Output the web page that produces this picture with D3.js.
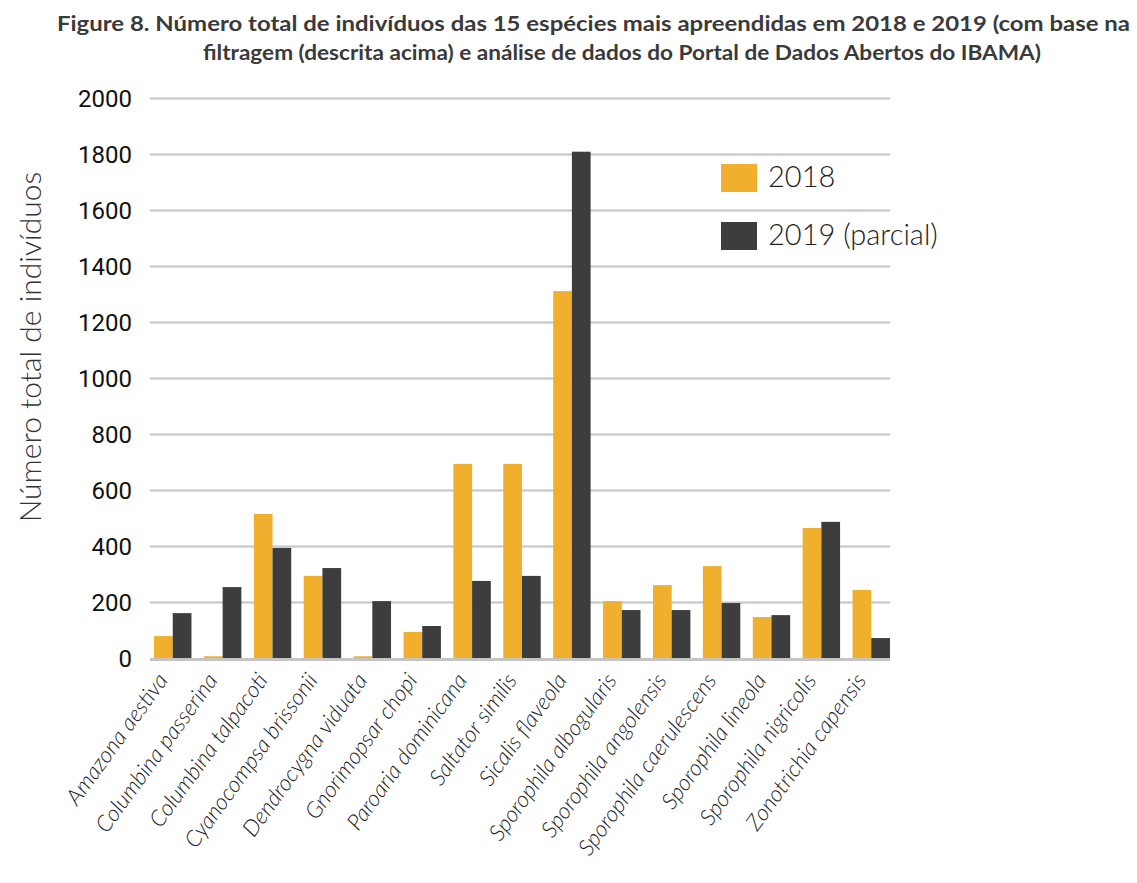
<!DOCTYPE html>
<html><head><meta charset="utf-8">
<script src="https://cdn.jsdelivr.net/npm/d3@7"></script>
<style>html,body{margin:0;padding:0;background:#fff;}</style>
</head><body>
<svg id="chart" width="1137" height="883"></svg>
<script>
const categories = ["Amazona aestiva","Columbina passerina","Columbina talpacoti","Cyanocompsa brissonii","Dendrocygna viduata","Gnorimopsar chopi","Paroaria dominicana","Saltator similis","Sicalis flaveola","Sporophila albogularis","Sporophila angolensis","Sporophila caerulescens","Sporophila lineola","Sporophila nigricolis","Zonotrichia capensis"];
const values2018 = [80, 8, 516, 295, 8, 95, 695, 695, 1312, 205, 262, 330, 148, 466, 245];
const values2019 = [162, 255, 395, 323, 205, 116, 277, 295, 1810, 173, 173, 198, 155, 488, 73];
const seriesNames = ["2018", "2019 (parcial)"];
const yTicks = [0,200,400,600,800,1000,1200,1400,1600,1800,2000];
const titleLines = ["Figure 8. Número total de indivíduos das 15 espécies mais apreendidas em 2018 e 2019 (com base na","filtragem (descrita acima) e análise de dados do Portal de Dados Abertos do IBAMA)"];
const yTitle = "Número total de indivíduos";

const colors = ["#F0AF2C", "#3D3D3D"];
const svg = d3.select("#chart");

const x = d3.scaleBand().domain(categories).range([147.8, 896.2]).paddingInner(0.25).paddingOuter(0.125);
const xs = d3.scaleBand().domain([0,1]).range([0, x.bandwidth()]);
const y = d3.scaleLinear().domain([0, 2000]).range([658.5, 98.5]);

// gridlines
svg.append("g").selectAll("line").data(yTicks.filter(d=>d>0)).join("line")
  .attr("x1", 150).attr("x2", 890)
  .attr("y1", d=>y(d)).attr("y2", d=>y(d))
  .attr("stroke", "#c4c4c4").attr("stroke-width", 2);

// y tick labels
svg.append("g").selectAll("text").data(yTicks).join("text")
  .attr("x", 132).attr("y", d=>y(d)).attr("dy", "0.35em")
  .attr("text-anchor", "end")
  .attr("font-family", "Roboto, sans-serif").attr("font-size", 24).attr("fill", "#111")
  .text(d=>d);

// bars
const data = categories.map((c,i)=>({c, v:[values2018[i], values2019[i]]}));
const g = svg.append("g").selectAll("g").data(data).join("g")
  .attr("transform", d=>`translate(${x(d.c)},0)`);
g.selectAll("rect").data(d=>d.v.map((v,k)=>({v,k}))).join("rect")
  .attr("x", d=>xs(d.k)).attr("width", xs.bandwidth())
  .attr("y", d=>y(d.v)).attr("height", d=>y(0)-y(d.v))
  .attr("fill", d=>colors[d.k]);

// baseline
svg.append("line").attr("x1",150).attr("x2",890).attr("y1",y(0)+1).attr("y2",y(0)+1)
  .attr("stroke","#c4c4c4").attr("stroke-width",3);

// x labels
svg.append("g").selectAll("text").data(categories).join("text")
  .attr("transform", d=>`translate(${x(d)+x.bandwidth()/2-4},${y(0)+22}) rotate(-54)`)
  .attr("text-anchor","end")
  .attr("font-family","Lato, sans-serif").attr("font-weight",300).attr("font-style","italic")
  .attr("font-size",22.5).attr("fill","#222")
  .text(d=>d);

// y title
svg.append("text").attr("transform","translate(41,347) rotate(-90)")
  .attr("text-anchor","middle")
  .attr("font-family","Lato, sans-serif").attr("font-weight",300)
  .attr("font-size",30).attr("fill","#333").text(yTitle);

// title
const tx = [[57,1073],[203,838]];
svg.append("g").selectAll("text").data(titleLines).join("text")
  .attr("x",(d,i)=>tx[i][0]).attr("y",(d,i)=>31+i*29)
  .attr("textLength",(d,i)=>tx[i][1]).attr("lengthAdjust","spacingAndGlyphs")
  .attr("font-family","Lato, sans-serif").attr("font-weight",700)
  .attr("font-size",20).attr("fill","#3a3a3a").text(d=>d);

// legend
const lg = svg.append("g").selectAll("g").data(seriesNames).join("g")
  .attr("transform",(d,i)=>`translate(721,${164+i*58})`);
lg.append("rect").attr("width",36).attr("height",28).attr("fill",(d,i)=>colors[i]);
lg.append("text").attr("x",47).attr("y",23)
  .attr("font-family","Lato, sans-serif").attr("font-weight",300)
  .attr("font-size",29).attr("fill","#222").text(d=>d);
</script>
</body></html>
